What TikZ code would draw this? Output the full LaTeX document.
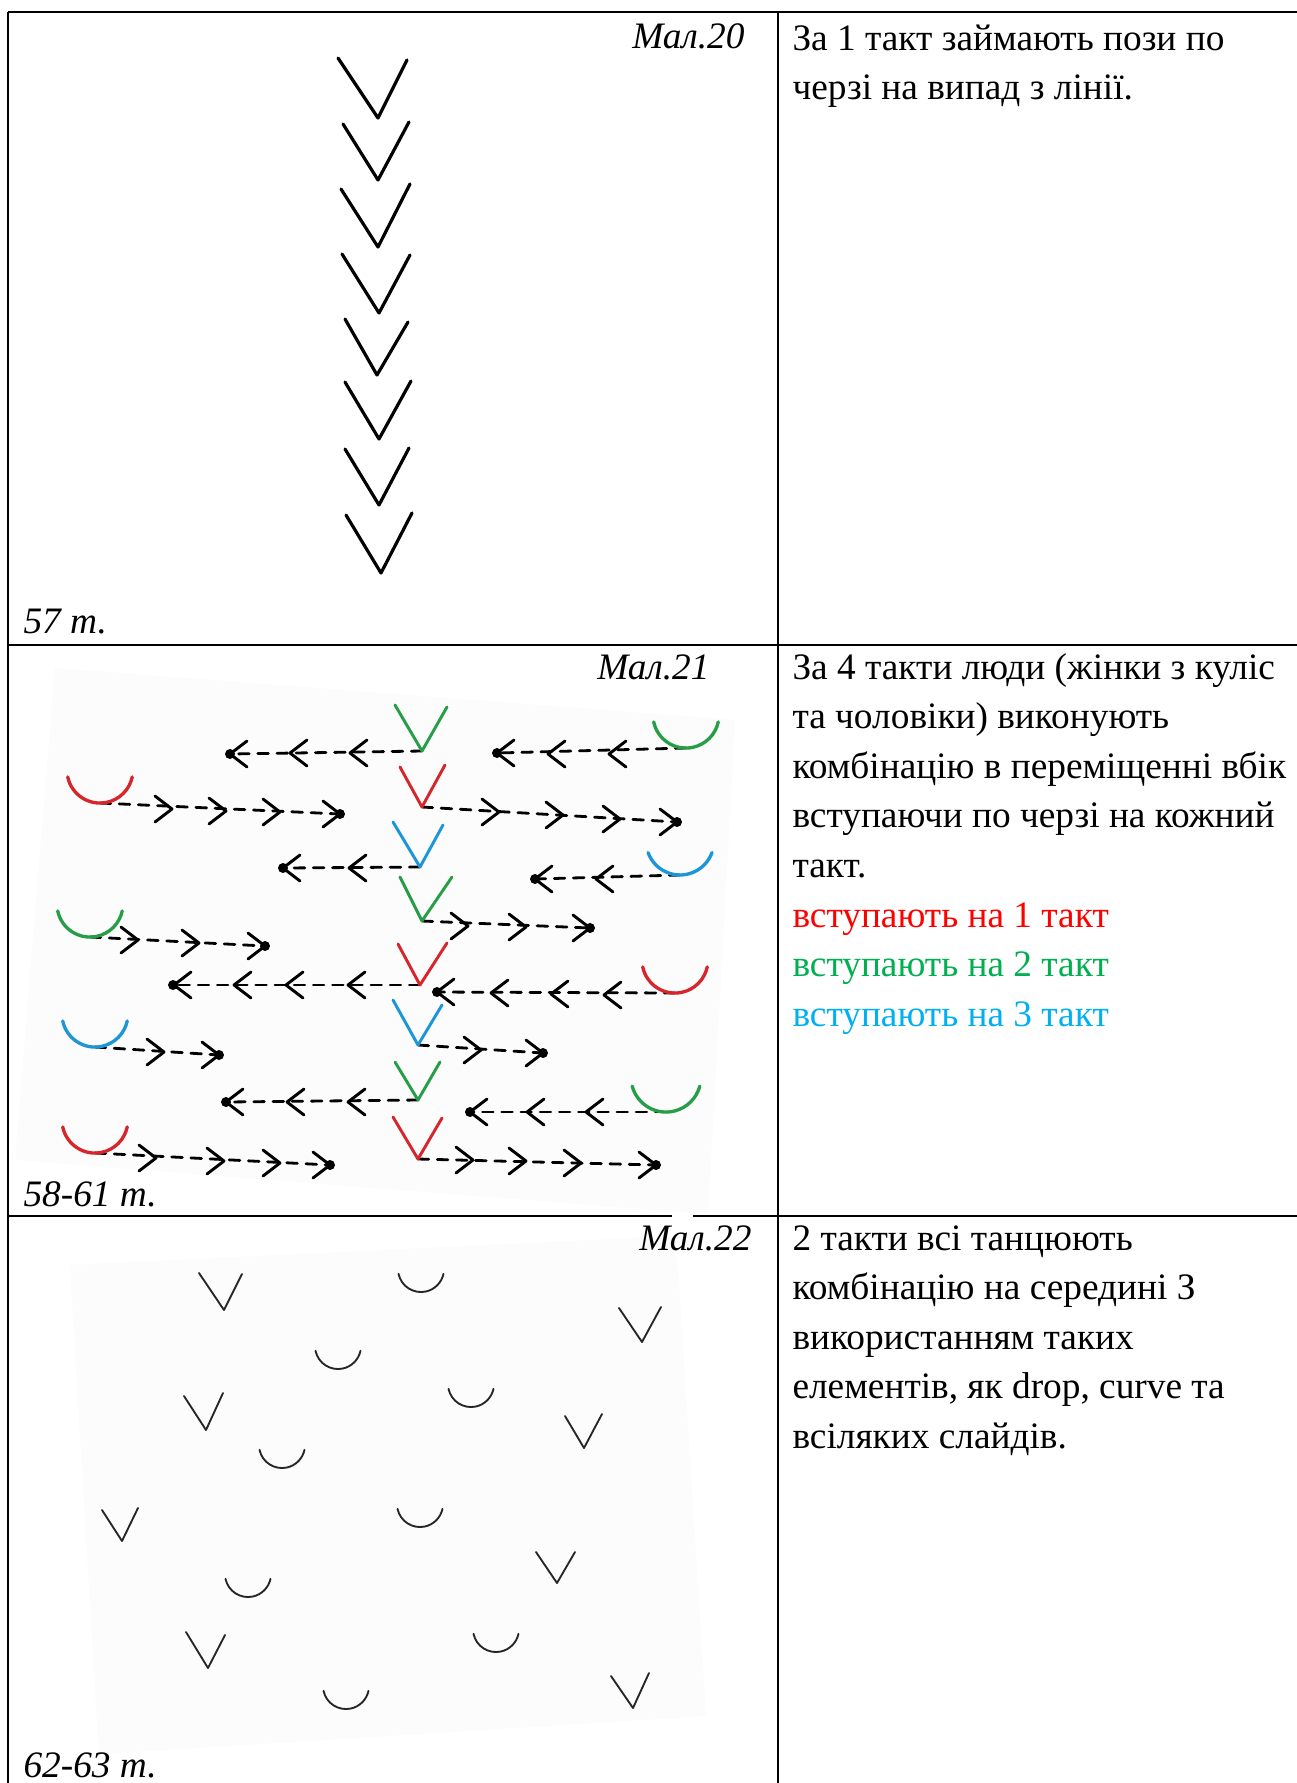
\documentclass[tikz,border=0pt]{standalone}
\usepackage{fontspec}
\setmainfont{Liberation Serif}
\usepackage{tikz}
\usepackage{xcolor}
\usetikzlibrary{calc}

\definecolor{txtred}{RGB}{255,0,0}
\definecolor{txtgreen}{RGB}{0,176,80}
\definecolor{txtblue}{RGB}{0,176,240}
\definecolor{penred}{RGB}{214,38,44}
\definecolor{pengreen}{RGB}{38,158,72}
\definecolor{penblue}{RGB}{28,150,214}
\definecolor{scanbg}{RGB}{252,252,252}

\begin{document}
\begin{tikzpicture}[
		x=0.375pt,
		y=-0.375pt,
		line cap=round,
		line join=round,
		rule/.style={draw=black, line width=1.1pt, line cap=butt},
		body/.style={anchor=base west, inner sep=0pt, font=\fontsize{14}{18.6}\selectfont},
		caption/.style={anchor=base east, inner sep=0pt, font=\fontsize{14}{18.6}\selectfont\itshape},
		bars/.style={anchor=base west, inner sep=0pt, font=\fontsize{14}{18.6}\selectfont\itshape},
		pose/.style={draw=black, line width=1.2pt},
		man/.style={draw=#1, line width=1.1pt},
		woman/.style={draw=#1, line width=1.25pt},
		walk/.style={draw=black, line width=1.05pt, dash pattern=on 4pt off 3.2pt},
		chev/.style={draw=black, line width=1.1pt},
		sketch/.style={draw=black!85, line width=0.7pt}
		]
		
		% background
		\fill[white] (0,0) rectangle (1297,1783);
		\useasboundingbox (0,0) rectangle (1297,1783);
		
		% scanned sheets
		\fill[scanbg] (55,668) -- (735,720) -- (708,1214) -- (15,1160) -- cycle;
		\fill[scanbg] (70,1265) -- (676,1236) -- (706,1716) -- (99,1754) -- cycle;
		
		% table
		\draw[rule] (8,12) -- (1297,12);
		\draw[rule] (8,12) -- (8,1783);
		\draw[rule] (778,12) -- (778,1783);
		\draw[rule] (8,645) -- (1297,645);
		\draw[rule] (8,1216) -- (1297,1216);
		\fill[white] (672,1212) rectangle (693,1220);
		
		% row 1 -- Mal.20
		\node[caption] (cap20) at (745,48) {Мал.20};
		\node[bars] (bar57) at (23,633) {57 т.};
		
		\draw[pose] (338,58)  -- (378,118) -- (407,60);
		\draw[pose] (343,124) -- (378,180) -- (409,122);
		\draw[pose] (341,189) -- (378,247) -- (410,184);
		\draw[pose] (342,254) -- (379,313) -- (410,255);
		\draw[pose] (345,319) -- (377,375) -- (408,322);
		\draw[pose] (345,382) -- (379,439) -- (411,381);
		\draw[pose] (345,449) -- (379,505) -- (409,448);
		\draw[pose] (346,515) -- (381,573) -- (412,513);
		
		\node[body] (r1a) at (792,50)   {За 1 такт займають пози по};
		\node[body] (r1b) at (792,99.6) {черзі на випад з лінії.};
		
		% row 2 -- Mal.21
		\node[caption] (cap21) at (710,679) {Мал.21};
		\node[bars] (bar58) at (23,1206) {58-61 т.};
		
		% men in the middle
		\coordinate (vA) at (422,751);
		\coordinate (vB) at (422,807);
		\coordinate (vC) at (420,867);
		\coordinate (vD) at (422,921);
		\coordinate (vE) at (420,985);
		\coordinate (vF) at (418,1045);
		\coordinate (vG) at (418,1100);
		\coordinate (vH) at (418,1159);
		
		% women from the wings
		\coordinate (wA) at (686,748);
		\coordinate (wB) at (100,803);
		\coordinate (wC) at (680,875);
		\coordinate (wD) at (90,937);
		\coordinate (wE) at (675,993);
		\coordinate (wF) at (95,1047);
		\coordinate (wG) at (666,1112);
		\coordinate (wH) at (95,1153);
		
		% where they stop
		\coordinate (eA1) at (230,754);
		\coordinate (eA2) at (497,753);
		\coordinate (eB1) at (340,814);
		\coordinate (eB2) at (677,822);
		\coordinate (eC1) at (283,868);
		\coordinate (eC2) at (535,879);
		\coordinate (eD1) at (265,946);
		\coordinate (eD2) at (590,928);
		\coordinate (eE1) at (173,985);
		\coordinate (eE2) at (437,992);
		\coordinate (eF1) at (219,1055);
		\coordinate (eF2) at (543,1053);
		\coordinate (eG1) at (226,1102);
		\coordinate (eG2) at (470,1112);
		\coordinate (eH1) at (330,1165);
		\coordinate (eH2) at (656,1165);
		
		% paths
		\draw[walk] (vA) -- (eA1);
		\draw[walk] (wA) -- (eA2);
		\draw[walk] (wB) -- (eB1);
		\draw[walk] (vB) -- (eB2);
		\draw[walk] (vC) -- (eC1);
		\draw[walk] (wC) -- (eC2);
		\draw[walk] (wD) -- (eD1);
		\draw[walk] (vD) -- (eD2);
		\draw[walk] (vE) -- (eE1);
		\draw[walk] (wE) -- (eE2);
		\draw[walk] (wF) -- (eF1);
		\draw[walk] (vF) -- (eF2);
		\draw[walk] (vG) -- (eG1);
		\draw[walk] (wG) -- (eG2);
		\draw[walk] (wH) -- (eH1);
		\draw[walk] (vH) -- (eH2);
		
		\foreach \p in {eA1,eA2,eB1,eB2,eC1,eC2,eD1,eD2,eE1,eE2,eF1,eF2,eG1,eG2,eH1,eH2}
			\fill (\p) circle (5);
		
		% steps to the left
		\foreach \x/\y in {230/754,290/753,350/753, 497/753,548/754,609/754,
				283/868,349/868, 535/879,596/879,
				174/985,234/985,286/985,348/985, 437/992,491/993,551/994,604/995,
				226/1102,287/1102,348/1102, 470/1112,527/1112,586/1112}
			\draw[chev] (\x+17,\y-13) -- (\x,\y) -- (\x+17,\y+13);
		
		% steps to the right
		\foreach \x/\y in {172/809,226/811,280/812,340/814, 499/812,563/815,620/819,677/822,
				138/940,199/943,265/946, 468/926,526/927,590/928,
				164/1052,219/1055, 481/1050,543/1053,
				156/1158,224/1161,280/1163,330/1165, 473/1160,526/1161,581/1163,656/1165}
			\draw[chev] (\x-17,\y-13) -- (\x,\y) -- (\x-17,\y+13);
		
		% men
		\draw[man=pengreen] (vA) ++(-27,-46) -- (vA) -- ++(25,-44);
		\draw[man=penred]   (vB) ++(-22,-40) -- (vB) -- ++(23,-42);
		\draw[man=penblue]  (vC) ++(-27,-45) -- (vC) -- ++(23,-42);
		\draw[man=pengreen] (vD) ++(-22,-44) -- (vD) -- ++(30,-44);
		\draw[man=penred]   (vE) ++(-22,-41) -- (vE) -- ++(27,-42);
		\draw[man=penblue]  (vF) ++(-25,-45) -- (vF) -- ++(24,-40);
		\draw[man=pengreen] (vG) ++(-23,-38) -- (vG) -- ++(22,-38);
		\draw[man=penred]   (vH) ++(-25,-42) -- (vH) -- ++(24,-41);
		
		% women
		\draw[woman=pengreen] (wA) ++(-32.3,-26.1) arc[start angle=168, end angle=12, radius=33];
		\draw[woman=penred]   (wB) ++(-32.3,-26.1) arc[start angle=168, end angle=12, radius=33];
		\draw[woman=penblue]  (wC) ++(-31.9,-22.4) arc[start angle=160, end angle=20, radius=34];
		\draw[woman=pengreen] (wD) ++(-32.3,-26.1) arc[start angle=168, end angle=12, radius=33];
		\draw[woman=penred]   (wE) ++(-32.3,-26.1) arc[start angle=168, end angle=12, radius=33];
		\draw[woman=penblue]  (wF) ++(-32.3,-26.1) arc[start angle=168, end angle=12, radius=33];
		\draw[woman=pengreen] (wG) ++(-33.8,-25.9) arc[start angle=165, end angle=15, radius=35];
		\draw[woman=penred]   (wH) ++(-32.3,-26.1) arc[start angle=168, end angle=12, radius=33];
		
		\node[body] (r2a) at (792,679)    {За 4 такти люди (жінки з куліс};
		\node[body] (r2b) at (792,728.6)  {та чоловіки) виконують};
		\node[body] (r2c) at (792,778.2)  {комбінацію в переміщенні вбік};
		\node[body] (r2d) at (792,827.8)  {вступаючи по черзі на кожний};
		\node[body] (r2e) at (792,877.4)  {такт.};
		\node[body, text=txtred]   (r2f) at (792,927)    {вступають на 1 такт};
		\node[body, text=txtgreen] (r2g) at (792,976.6)  {вступають на 2 такт};
		\node[body, text=txtblue]  (r2h) at (792,1026.2) {вступають на 3 такт};
		
		% row 3 -- Mal.22
		\node[caption] (cap22) at (752,1250) {Мал.22};
		\node[bars] (bar62) at (23,1777) {62-63 т.};
		
		\draw[sketch] (199,1273) -- (224,1310) -- (242,1274);
		\draw[sketch] (619,1308) -- (642,1342) -- (661,1307);
		\draw[sketch] (184,1396) -- (206,1430) -- (223,1393);
		\draw[sketch] (565,1416) -- (584,1448) -- (602,1414);
		\draw[sketch] (102,1510) -- (122,1541) -- (138,1508);
		\draw[sketch] (536,1552) -- (557,1583) -- (575,1552);
		\draw[sketch] (186,1632) -- (208,1668) -- (225,1635);
		\draw[sketch] (611,1676) -- (633,1708) -- (649,1673);
		
		\foreach \x/\y in {421/1292,338/1369,471/1407,282/1468,420/1527,248/1597,496/1652,346/1709}
			\draw[sketch] (\x,\y) ++(-22.5,-18.2) arc[start angle=168, end angle=12, radius=23];
		
		\node[body] (r3a) at (792,1250)   {2 такти всі танцюють};
		\node[body] (r3b) at (792,1299.6) {комбінацію на середині З};
		\node[body] (r3c) at (792,1349.2) {використанням таких};
		\node[body] (r3d) at (792,1398.8) {елементів, як drop, curve та};
		\node[body] (r3e) at (792,1448.4) {всіляких слайдів.};
\end{tikzpicture}
\end{document}
